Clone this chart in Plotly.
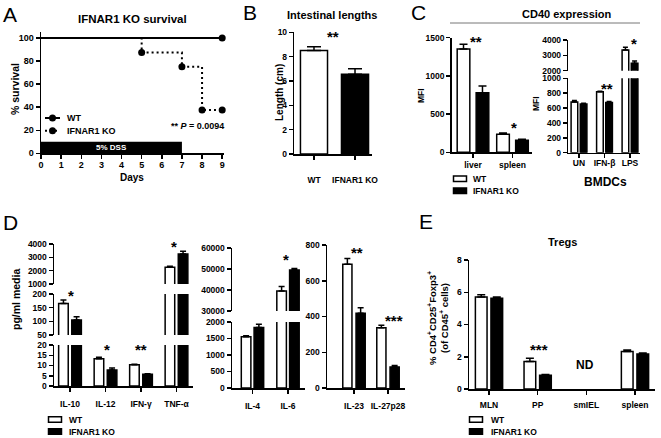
import plotly.graph_objects as go

# ---------------- data ----------------
# A: Kaplan-Meier survival
wt_days = [0, 9]
wt_survival = [100, 100]
ko_days = [0, 5, 7, 8, 9]
ko_survival = [100, 87.5, 75, 37.5, 37.5]
dss_days = [0, 7]
surv_xticks = [0, 1, 2, 3, 4, 5, 6, 7, 8, 9]
surv_yticks = [0, 20, 40, 60, 80, 100]

# B: intestinal lengths
length_groups = ["WT", "IFNAR1 KO"]
length_mean = [8.5, 6.55]
length_sem = [0.32, 0.45]
length_yticks = [0, 2, 4, 6, 8, 10]

# C: CD40 expression
cd40_tissues = ["liver", "spleen"]
cd40_wt = [1352, 236]
cd40_wt_sem = [62, 16]
cd40_ko = [780, 157]
cd40_ko_sem = [88, 13]
cd40_yticks = [0, 500, 1000, 1500]

bmdc_stim = ["UN", "IFN-β", "LPS"]
bmdc_wt = [680, 818, 3350]
bmdc_wt_sem = [20, 8, 170]
bmdc_ko = [655, 675, 2480]
bmdc_ko_sem = [10, 13, 150]
bmdc_yticks_low = [0, 200, 400, 600, 800, 1000]
bmdc_yticks_high = [2000, 3000, 4000]

# D: cytokines (pg/ml)
cyto1 = ["IL-10", "IL-12", "IFN-γ", "TNF-α"]
cyto1_wt = [165, 13.3, 10.4, 2250]
cyto1_wt_sem = [13, 0.7, 0.25, 80]
cyto1_ko = [105, 7.8, 5.7, 3250]
cyto1_ko_sem = [12, 1.0, 0.3, 200]
cyto1_yticks_low = [0, 5, 10, 15, 20]
cyto1_yticks_mid = [50, 100, 150, 200]
cyto1_yticks_high = [1000, 2000, 3000, 4000]

cyto2 = ["IL-4", "IL-6"]
cyto2_wt = [1555, 39500]
cyto2_wt_sem = [25, 2200]
cyto2_ko = [1830, 49500]
cyto2_ko_sem = [100, 700]
cyto2_yticks_low = [0, 500, 1000, 1500, 2000]
cyto2_yticks_high = [30000, 40000, 50000, 60000]

cyto3 = ["IL-23", "IL-27p28"]
cyto3_wt = [692, 337]
cyto3_wt_sem = [33, 14]
cyto3_ko = [418, 118]
cyto3_ko_sem = [31, 8]
cyto3_yticks = [0, 200, 400, 600, 800]

# E: Tregs
treg_sites = ["MLN", "PP", "smIEL", "spleen"]
treg_wt = [5.7, 1.7, None, 2.32]
treg_wt_sem = [0.15, 0.2, 0, 0.1]
treg_ko = [5.63, 0.85, None, 2.17]
treg_ko_sem = [0.08, 0.05, 0, 0.07]
treg_yticks = [0, 2, 4, 6, 8]

# ---------------- layout helpers ----------------
W, H = 661, 438
FONT = "Liberation Sans, Arial, sans-serif"


def px_x(a):
    return a / W


def px_y(b):
    return 1 - b / H


AX = dict(showline=True, linecolor="black", linewidth=1.5, ticks="outside",
          ticklen=4, tickwidth=1.5, tickcolor="black", showgrid=False,
          zeroline=False, automargin=False, fixedrange=True,
          tickfont=dict(family=FONT, size=8.5, color="black", weight="bold"))

layout_axes = {}


def add_pair(n, left, right, top, bottom, xopts, yopts):
    xk = "xaxis" if n == 1 else f"xaxis{n}"
    yk = "yaxis" if n == 1 else f"yaxis{n}"
    xa = dict(AX)
    xa.update(domain=[px_x(left), px_x(right)], anchor="y" if n == 1 else f"y{n}")
    xa.update(xopts)
    ya = dict(AX)
    ya.update(domain=[px_y(bottom), px_y(top)], anchor="x" if n == 1 else f"x{n}")
    ya.update(yopts)
    layout_axes[xk] = xa
    layout_axes[yk] = ya
    return ("x" if n == 1 else f"x{n}", "y" if n == 1 else f"y{n}")


traces = []


def group_bars(ref, cats, wt, wt_sem, ko, ko_sem, bw, gap, cap):
    xa, ya = ref
    for vals, sem, color, off in ((wt, wt_sem, "white", -(bw + gap / 2)),
                                  (ko, ko_sem, "black", gap / 2)):
        traces.append(go.Bar(
            x=cats, y=vals, width=bw, offset=off, xaxis=xa, yaxis=ya,
            marker=dict(color=color, line=dict(color="black", width=1.5)),
            error_y=dict(type="data", array=sem, arrayminus=[0] * len(sem),
                         symmetric=False, color="black", thickness=1.5, width=cap),
            showlegend=False, hoverinfo="skip"))


def cat_x(rng, standoff, visible=True):
    d = dict(type="category", range=rng, ticklabelstandoff=standoff)
    if not visible:
        d.update(visible=False)
    return d


def num_y(rng, ticks):
    return dict(range=rng, tickvals=ticks, ticktext=[str(t) for t in ticks])


# ---- Panel A ----
rA = add_pair(1, 41, 224, 32.3, 153.3,
              dict(range=[0, 9.09], tickvals=surv_xticks, ticklabelstandoff=-2,
                   tickfont=dict(family=FONT, size=9, color="black", weight="bold")),
              dict(range=[0, 105], tickvals=surv_yticks,
                   tickfont=dict(family=FONT, size=9, color="black", weight="bold")))
MK = dict(color="black", opacity=1, line=dict(color="black", width=0))
traces.append(go.Scatter(x=wt_days, y=wt_survival, xaxis=rA[0], yaxis=rA[1],
                         mode="lines+markers", cliponaxis=False,
                         line=dict(color="black", width=2),
                         marker=dict(MK, size=[0, 7]),
                         showlegend=False, hoverinfo="skip"))
traces.append(go.Scatter(x=ko_days, y=ko_survival, xaxis=rA[0], yaxis=rA[1],
                         mode="lines+markers", cliponaxis=False,
                         line=dict(color="black", width=2, dash="2px,3px", shape="hv"),
                         marker=dict(MK, size=[0, 7, 7, 7, 7]),
                         showlegend=False, hoverinfo="skip"))

# ---- Panel B ----
rB = add_pair(2, 294.3, 371.7, 32.3, 154,
              cat_x([-0.48, 1.407], 13),
              num_y([0, 10], length_yticks))
traces.append(go.Bar(x=length_groups, y=length_mean, width=0.66, xaxis=rB[0], yaxis=rB[1],
                     marker=dict(color=["white", "black"], line=dict(color="black", width=1.5)),
                     error_y=dict(type="data", array=length_sem, arrayminus=[0, 0],
                                  symmetric=False, color="black", thickness=1.5, width=7),
                     showlegend=False, hoverinfo="skip"))

# ---- Panel C ----
rC = add_pair(3, 451.7, 531.7, 37.7, 152.3,
              cat_x([-0.539, 1.486], 0), num_y([0, 1500], cd40_yticks))
group_bars(rC, cd40_tissues, cd40_wt, cd40_wt_sem, cd40_ko, cd40_ko_sem, 0.32, 0.16, 4)

rC2lo = add_pair(4, 568.3, 640, 78.3, 152.7,
                 cat_x([-0.42, 2.392], -2), num_y([0, 1000], bmdc_yticks_low))
rC2hi = add_pair(5, 568.3, 640, 40, 70.7,
                 cat_x([-0.42, 2.392], 0, visible=False), num_y([2000, 4000], bmdc_yticks_high))
for ref in (rC2lo, rC2hi):
    group_bars(ref, bmdc_stim, bmdc_wt, bmdc_wt_sem, bmdc_ko, bmdc_ko_sem, 0.26, 0.1, 2.5)

# ---- Panel D ----
d1r = [-0.451, 3.465]
rD1lo = add_pair(6, 54, 193, 345, 386, cat_x(d1r, 5), num_y([0, 20], cyto1_yticks_low))
rD1mid = add_pair(7, 54, 193, 294, 335, cat_x(d1r, 0, False), num_y([50, 200], cyto1_yticks_mid))
rD1hi = add_pair(8, 54, 193, 244, 284, cat_x(d1r, 0, False), num_y([1000, 4000], cyto1_yticks_high))
for ref in (rD1lo, rD1mid, rD1hi):
    group_bars(ref, cyto1, cyto1_wt, cyto1_wt_sem, cyto1_ko, cyto1_ko_sem, 0.27, 0.1, 3)

d2r = [-0.577, 1.479]
rD2lo = add_pair(9, 232, 305, 322, 388, cat_x(d2r, 5), num_y([0, 2000], cyto2_yticks_low))
rD2hi = add_pair(10, 232, 305, 248, 311, cat_x(d2r, 0, False), num_y([30000, 60000], cyto2_yticks_high))
for ref in (rD2lo, rD2hi):
    group_bars(ref, cyto2, cyto2_wt, cyto2_wt_sem, cyto2_ko, cyto2_ko_sem, 0.27, 0.09, 3)

rD3 = add_pair(11, 327, 405, 245, 388, cat_x([-0.794, 1.5], 5), num_y([0, 800], cyto3_yticks))
group_bars(rD3, cyto3, cyto3_wt, cyto3_wt_sem, cyto3_ko, cyto3_ko_sem, 0.27, 0.12, 3)

# ---- Panel E ----
rE = add_pair(12, 469, 655, 260, 389, cat_x([-0.411, 3.411], 3), num_y([0, 8], treg_yticks))
group_bars(rE, treg_sites, treg_wt, treg_wt_sem, treg_ko, treg_ko_sem, 0.24, 0.08, 4)

# ---------------- annotations & shapes ----------------
anns = []


def ann(text, x, y, size=9, bold=True, xanchor="center", yanchor="middle",
        angle=0, color="black"):
    anns.append(dict(text=text, x=px_x(x), y=px_y(y), xref="paper", yref="paper",
                     showarrow=False, xanchor=xanchor, yanchor=yanchor, textangle=angle,
                     font=dict(family=FONT, size=size, color=color,
                               weight="bold" if bold else "normal")))


def star(text, x, y):
    ann(text, x, y + 3, size=15)


# panel letters
for letter, x, y in (("A", 10, 14), ("B", 250, 13), ("C", 418, 13), ("D", 10, 222), ("E", 426, 221)):
    ann(letter, x, y, size=21, bold=False)

# titles
ann("IFNAR1 KO survival", 132, 19, size=11.5)
ann("Intestinal lengths", 332, 15, size=11)
ann("CD40 expression", 567, 14, size=11)
ann("BMDCs", 605, 182, size=12)
ann("Tregs", 562, 242, size=11)

# axis titles
ann("% survival", 15, 89, size=10.5, angle=-90)
ann("Days", 132, 177, size=10)
ann("Length (cm)", 280, 93, size=10, angle=-90)
ann("MFI", 421, 96, size=8.5, angle=-90)
ann("MFI", 536, 104, size=8.5, angle=-90)
ann("pg/ml media", 16, 300, size=10.5, angle=-90)
ann("% CD4<sup>+</sup>CD25<sup>+</sup>Foxp3<sup>+</sup><br>(of CD45<sup>+</sup> cells)",
    438, 318, size=9.5, angle=-90)

# significance
star("**", 333, 34)
star("**", 475.5, 38.3)
star("*", 513.7, 124)
star("**", 607, 85)
star("*", 633.7, 40.5)
star("*", 71, 292.5)
star("*", 107, 346)
star("**", 141, 346)
star("*", 173.7, 243)
star("*", 285.7, 256)
star("**", 357.5, 249.7)
star("***", 393.8, 317)
star("***", 539.3, 346.7)
ann("ND", 584.7, 364.5, size=12)

# P value
ann("** <i>P</i> = 0.0094", 226, 126, size=9, xanchor="right")

# DSS bar text (data coords)
anns.append(dict(text="5% DSS", x=(dss_days[0] + dss_days[1]) / 2, y=5, xref=rA[0], yref=rA[1],
                 showarrow=False, font=dict(family=FONT, size=8, color="white", weight="bold")))

shapes = []
shapes.append(dict(type="rect", xref=rA[0], yref=rA[1], x0=dss_days[0], x1=dss_days[1],
                   y0=0, y1=10, fillcolor="black", line=dict(width=0), layer="below"))


def rect_px(x0, y0, x1, y1, fill):
    shapes.append(dict(type="rect", xref="paper", yref="paper", x0=px_x(x0), x1=px_x(x1),
                       y0=px_y(y1), y1=px_y(y0), fillcolor=fill,
                       line=dict(color="black", width=1.5)))


def line_px(x0, y0, x1, y1, width=1.5, color="black", dash="solid"):
    shapes.append(dict(type="line", xref="paper", yref="paper", x0=px_x(x0), x1=px_x(x1),
                       y0=px_y(y0), y1=px_y(y1), line=dict(color=color, width=width, dash=dash)))


def circle_px(cx, cy, r):
    shapes.append(dict(type="circle", xref="paper", yref="paper", x0=px_x(cx - r), x1=px_x(cx + r),
                       y0=px_y(cy + r), y1=px_y(cy - r), fillcolor="black",
                       line=dict(color="black", width=0)))


# legend A
line_px(45, 118, 60, 118, width=2)
circle_px(52.5, 118, 3.5)
line_px(45, 130.7, 60, 130.7, width=2, dash="2px,3px")
circle_px(52.5, 130.7, 3.5)
ann("WT", 65, 118, size=9, xanchor="left")
ann("IFNAR1 KO", 65, 130.7, size=9, xanchor="left")

# CD40 header line
line_px(450, 23, 640, 23, width=1, color="#777777")

# bar legends
for (bx, ty, tx) in ((453, 178.7, 471), (48, 419.5, 67), (469, 419.5, 489)):
    rect_px(bx + 0.5, ty - 2.7, bx + 13.5, ty + 2.7, "white")
    rect_px(bx + 0.5, ty + 9.3, bx + 13.5, ty + 14.7, "black")
    ann("WT", tx, ty, size=8.5, xanchor="left")
    ann("IFNAR1 KO", tx, ty + 12, size=8.5, xanchor="left")

fig = go.Figure(data=traces)
fig.update_layout(width=W, height=H, margin=dict(l=0, r=0, t=0, b=0), template="none",
                  paper_bgcolor="white", plot_bgcolor="rgba(0,0,0,0)", showlegend=False,
                  barmode="overlay", font=dict(family=FONT, color="black"),
                  annotations=anns, shapes=shapes, **layout_axes)
fig.write_html("out.html", config={"displayModeBar": False, "staticPlot": True},
               post_script="document.body.style.margin='0';document.body.style.padding='0';")
